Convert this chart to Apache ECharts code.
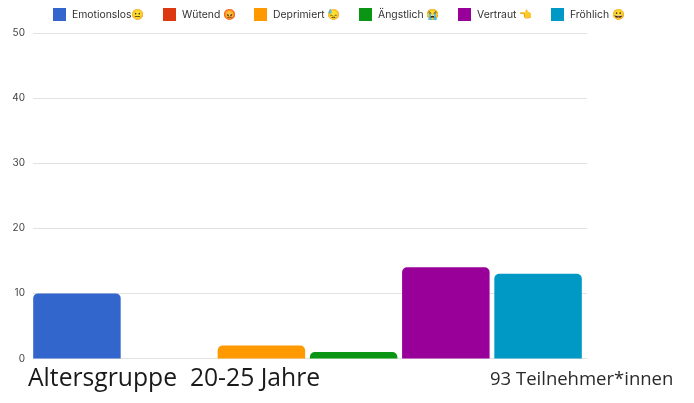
<!DOCTYPE html>
<html><head><meta charset="utf-8">
<style>html,body{margin:0;padding:0;background:#fff}#c{width:694px;height:403px}</style>
<script src="https://cdn.jsdelivr.net/npm/echarts@6/dist/echarts.min.js"></script>
</head><body><div id="c"></div>
<script>
const categories = ['20-25 Jahre'];
const seriesNames = ['Emotionslos😐','Wütend 😡','Deprimiert 😓','Ängstlich 😭','Vertraut 👈','Fröhlich 😀'];
const seriesValues = [10,0,2,1,14,13];
const colors = ['#3366cc','#dc3912','#ff9900','#0a9614','#990099','#0099c6'];
const legendLefts = [53,163,254,359,458,551];
const yTicks = [0,10,20,30,40,50];
const ageTitle = 'Altersgruppe  20-25 Jahre';
const countTitle = '93 Teilnehmer*innen';

const chart = echarts.init(document.getElementById('c'),null,{renderer:'canvas'});
const emojiFont = 'Inter, "Noto Color Emoji", "DejaVu Sans", sans-serif';
chart.setOption({
  animation:false,
  backgroundColor:'#fff',
  color:colors,
  title:[
    {text:ageTitle,left:28,top:364,textStyle:{fontFamily:'Open Sans',fontWeight:'normal',fontSize:24.7,color:'#1a1a1a',lineHeight:30},padding:0},
    {text:countTitle,left:490,top:368,textStyle:{fontFamily:'Open Sans',fontWeight:'normal',fontSize:18.5,color:'#2a2a2a',lineHeight:24},padding:0}
  ],
  legend:seriesNames.map((n,i)=>({
    data:[n],left:legendLefts[i],top:8,padding:0,itemWidth:13,itemHeight:13,itemGap:0,
    icon:'rect',selectedMode:false,
    textStyle:{fontFamily:emojiFont,fontSize:10.4,color:'#333',padding:[0,0,0,1]}
  })),
  grid:[
    {left:33,top:33,width:554,height:325.5},
    {left:30.5,top:33,width:554,height:325.5}
  ],
  xAxis:[
    {type:'category',gridIndex:0,data:categories,show:false},
    {type:'category',gridIndex:1,data:categories,show:false}
  ],
  yAxis:[
    {type:'value',gridIndex:0,min:yTicks[0],max:yTicks[yTicks.length-1],interval:10,
     axisLine:{show:false},axisTick:{show:false},
     axisLabel:{fontFamily:'Inter',fontSize:10,color:'#444',margin:8},
     splitLine:{lineStyle:{color:'#e2e2e2',width:1}}},
    {type:'value',gridIndex:1,min:yTicks[0],max:yTicks[yTicks.length-1],interval:10,show:false,splitLine:{show:false}}
  ],
  series:seriesNames.map((n,i)=>({
    type:'bar',name:n,xAxisIndex:1,yAxisIndex:1,data:[seriesValues[i]],
    barWidth:87.5,barGap:'5.4%',
    itemStyle:{color:colors[i],borderRadius:[5,5,0,0]}
  }))
});
</script></body></html>
